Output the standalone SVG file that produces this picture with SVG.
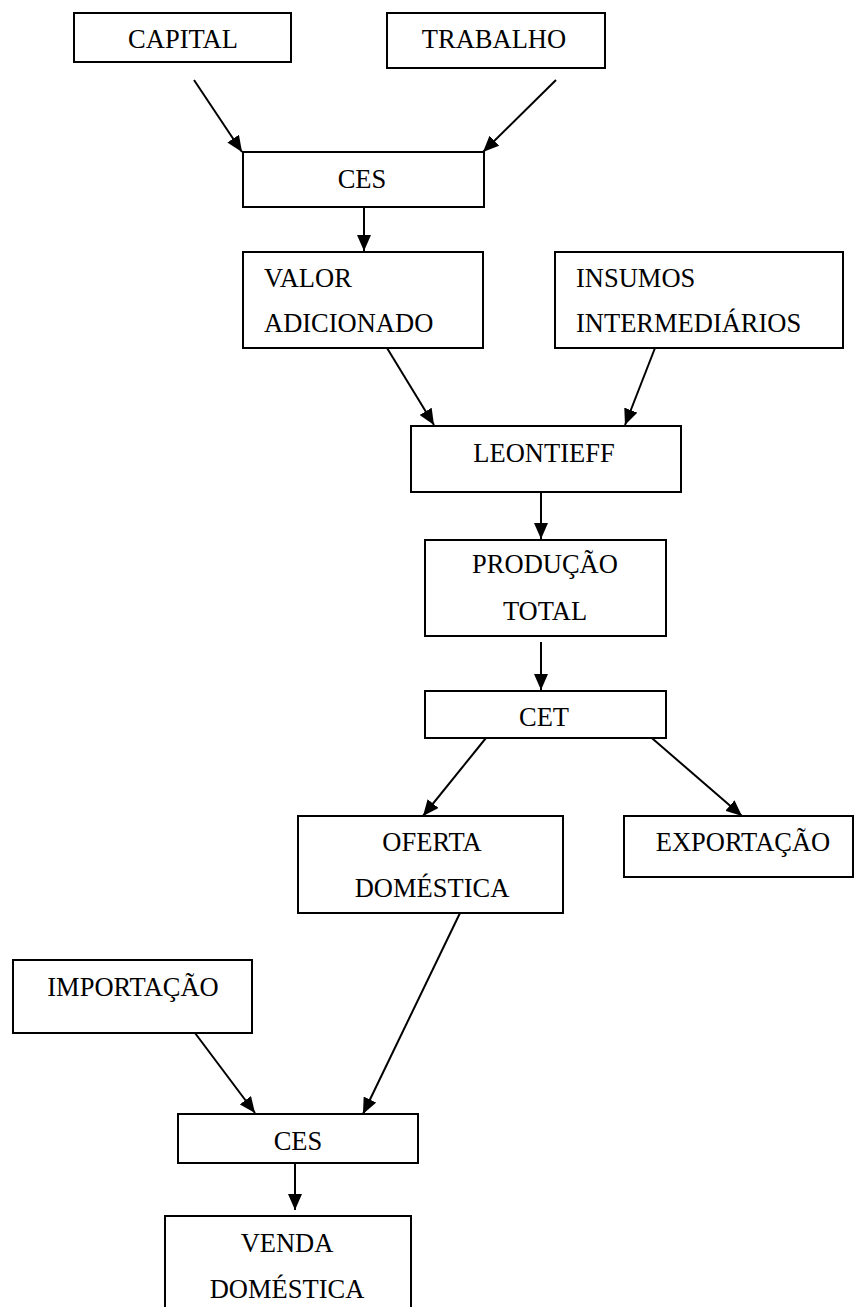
<svg xmlns="http://www.w3.org/2000/svg" width="855" height="1307" viewBox="0 0 855 1307">
<defs>
<style>
.box{fill:#fff;stroke:#000;stroke-width:2}
.t{font-family:"Liberation Serif","Times New Roman",serif;font-size:26.5px;fill:#000}
.c{text-anchor:middle}
.ln{stroke:#000;stroke-width:2;fill:none;marker-end:url(#ah)}
</style>
<marker id="ah" markerUnits="userSpaceOnUse" markerWidth="17" markerHeight="14" refX="16" refY="7" orient="auto">
<path d="M0,0 L16,7 L0,14 z" fill="#000"/>
</marker>
</defs>
<rect width="855" height="1307" fill="#fff"/>
<g id="connectors">
<line class="ln" x1="194" y1="80" x2="242" y2="152"/>
<line class="ln" x1="556" y1="80" x2="483" y2="152"/>
<line class="ln" x1="364" y1="207" x2="364" y2="251"/>
<line class="ln" x1="387" y1="348" x2="434" y2="425"/>
<line class="ln" x1="655" y1="348" x2="625" y2="425"/>
<line class="ln" x1="541" y1="492" x2="541" y2="539"/>
<line class="ln" x1="541" y1="642" x2="541" y2="690"/>
<line class="ln" x1="490" y1="733" x2="423" y2="816"/>
<line class="ln" x1="646" y1="733" x2="742" y2="816"/>
<line class="ln" x1="460" y1="913" x2="363" y2="1114"/>
<line class="ln" x1="195" y1="1033" x2="255" y2="1113"/>
<line class="ln" x1="295" y1="1163" x2="295" y2="1210"/>
</g>
<g id="capital"><rect class="box" x="74" y="13" width="217" height="49"/><text class="t c" x="183" y="48">CAPITAL</text></g>
<g id="trabalho"><rect class="box" x="387" y="13" width="218" height="55"/><text class="t c" x="494" y="48">TRABALHO</text></g>
<g id="ces1"><rect class="box" x="243" y="152" width="241" height="55"/><text class="t c" x="362" y="188">CES</text></g>
<g id="valor"><rect class="box" x="243" y="252" width="240" height="96"/><text class="t" x="264" y="287">VALOR</text><text class="t" x="264" y="332">ADICIONADO</text></g>
<g id="insumos"><rect class="box" x="555" y="252" width="288" height="96"/><text class="t" x="576" y="287">INSUMOS</text><text class="t" x="576" y="332">INTERMEDIÁRIOS</text></g>
<g id="leontieff"><rect class="box" x="411" y="426" width="270" height="66"/><text class="t c" x="544" y="462">LEONTIEFF</text></g>
<g id="producao"><rect class="box" x="425" y="540" width="241" height="96"/><text class="t c" x="545" y="573">PRODUÇÃO</text><text class="t c" x="545" y="620">TOTAL</text></g>
<g id="cet"><rect class="box" x="425" y="691" width="241" height="47"/><text class="t c" x="544" y="726">CET</text></g>
<g id="oferta"><rect class="box" x="298" y="816" width="265" height="97"/><text class="t c" x="432" y="851">OFERTA</text><text class="t c" x="432" y="897">DOMÉSTICA</text></g>
<g id="exportacao"><rect class="box" x="624" y="816" width="229" height="61"/><text class="t c" x="743" y="851">EXPORTAÇÃO</text></g>
<g id="importacao"><rect class="box" x="13" y="960" width="239" height="73"/><text class="t c" x="133" y="996">IMPORTAÇÃO</text></g>
<g id="ces2"><rect class="box" x="178" y="1114" width="240" height="49"/><text class="t c" x="298" y="1150">CES</text></g>
<g id="venda"><rect class="box" x="165" y="1216" width="246" height="110"/><text class="t c" x="287" y="1252">VENDA</text><text class="t c" x="287" y="1298">DOMÉSTICA</text></g>
</svg>
